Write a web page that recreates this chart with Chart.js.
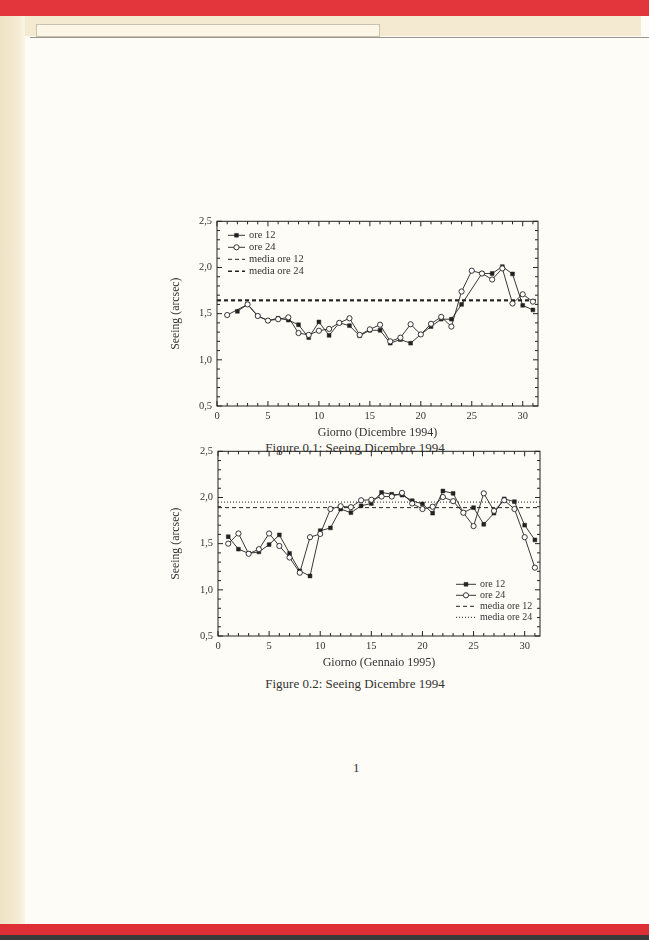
<!DOCTYPE html>
<html lang="it">
<head>
  <meta charset="UTF-8">
  <title>Seeing Dicembre 1994 / Gennaio 1995</title>
  <script src="https://cdn.jsdelivr.net/npm/chart.js"></script>
  <style>
    body { margin: 0; width: 649px; height: 940px; position: relative; overflow: hidden;
           background: #fefcf6; font-family: "Liberation Serif", serif; color: #333; }
    .abs { position: absolute; }
    .caption { font-size: 13px; text-align: center; width: 300px; left: 205px; }
  </style>
</head>
<body>
  <!-- bordi della scansione -->
  <div class="abs" style="left:0;top:0;width:649px;height:16px;background:#e2353c"></div>
  <div class="abs" style="left:8px;top:16px;width:633px;height:20px;background:#f4ead2"></div>
  <div class="abs" style="left:36px;top:24px;width:342px;height:11px;background:#fbf6e6;border:1px solid #c9c2b0"></div>
  <div class="abs" style="left:30px;top:37px;width:619px;height:1px;background:#9a968c"></div>
  <div class="abs" style="left:0;top:16px;width:25px;height:910px;background:linear-gradient(90deg,#efe2c6,#f5ead2 70%,#fbf5e6)"></div>
  <div class="abs" style="left:0;top:924px;width:649px;height:11px;background:#df2f36"></div>
  <div class="abs" style="left:0;top:935px;width:649px;height:5px;background:#3a3a3a"></div>

  <div class="abs caption" style="top:440px">Figure 0.1: Seeing Dicembre 1994</div>
  <div class="abs caption" style="top:676px">Figure 0.2: Seeing Dicembre 1994</div>
  <div class="abs" style="left:353px;top:760px;font-size:13px">1</div>

  <div class="abs" style="left:160px;top:210px;width:390px;height:240px"><canvas id="dec"></canvas></div>
  <div class="abs" style="left:160px;top:440px;width:390px;height:240px"><canvas id="jan"></canvas></div>

  <script>
    // giorni del mese
    const days = [1,2,3,4,5,6,7,8,9,10,11,12,13,14,15,16,17,18,19,20,21,22,23,24,25,26,27,28,29,30,31];

    // Dicembre 1994
    const dec12 = [null,1.525,1.60,1.475,1.425,1.45,1.43,1.38,1.24,1.41,1.265,1.40,1.37,1.26,1.32,1.32,
                   1.18,1.22,1.18,1.275,1.36,1.44,1.44,1.60,null,1.935,1.935,2.01,1.93,1.59,1.54];
    const dec24 = [1.485,null,1.60,1.475,1.425,1.44,1.46,1.29,1.27,1.315,1.335,1.40,1.45,1.27,1.33,1.38,
                   1.20,1.24,1.385,1.275,1.39,1.465,1.36,1.74,1.965,1.935,1.87,1.99,1.61,1.71,1.63];
    const decMean12 = 1.64;
    const decMean24 = 1.645;

    // Gennaio 1995
    const jan12 = [1.575,1.44,1.395,1.41,1.49,1.595,1.395,1.205,1.15,1.64,1.67,1.875,1.835,1.91,1.935,2.055,
                   2.035,2.025,1.965,1.93,1.83,2.07,2.045,1.835,1.89,1.71,1.83,1.985,1.955,1.70,1.54];
    const jan24 = [1.50,1.61,1.39,1.44,1.61,1.475,1.35,1.185,1.57,1.605,1.875,1.905,1.895,1.97,1.975,2.01,
                   2.01,2.05,1.935,1.875,1.90,2.005,1.96,1.835,1.69,2.045,1.855,1.97,1.875,1.57,1.24];
    const janMean12 = 1.89;
    const janMean24 = 1.95;

    const xTicks = [0, 5, 10, 15, 20, 25, 30];
    const yTicks = [0.5, 1.0, 1.5, 2.0, 2.5];
    const xMin = 0, xMax = 31.5;

    Chart.defaults.font.family = '"Liberation Serif", serif';
    Chart.defaults.color = '#333';

    const INK = '#222';

    // cornice con tacche verso l'interno su tutti i lati
    const frame = {
      id: 'frame',
      beforeDatasetsDraw(chart) {
        const { ctx, chartArea: a, scales: { x, y } } = chart;
        ctx.save();
        ctx.strokeStyle = INK;
        ctx.lineWidth = 1;
        ctx.strokeRect(a.left, a.top, a.right - a.left, a.bottom - a.top);
        ctx.beginPath();
        for (let v = 0; v <= 31; v++) {
          const px = x.getPixelForValue(v);
          const len = v % 5 === 0 ? 5 : 3;
          ctx.moveTo(px, a.bottom); ctx.lineTo(px, a.bottom - len);
          ctx.moveTo(px, a.top); ctx.lineTo(px, a.top + len);
        }
        for (let k = 5; k <= 25; k++) {
          const py = y.getPixelForValue(k / 10);
          const len = k % 5 === 0 ? 5 : 3;
          ctx.moveTo(a.left, py); ctx.lineTo(a.left + len, py);
          ctx.moveTo(a.right, py); ctx.lineTo(a.right - len, py);
        }
        ctx.stroke();
        ctx.restore();
      }
    };

    // legenda disegnata dentro l'area del grafico
    const innerLegend = {
      id: 'innerLegend',
      afterDraw(chart, args, opts) {
        const { ctx, chartArea: a } = chart;
        ctx.save();
        ctx.font = opts.size + 'px "Liberation Serif", serif';
        ctx.textBaseline = 'middle';
        chart.data.datasets.forEach((ds, i) => {
          const y0 = a.top + opts.y + i * opts.row;
          const x0 = a.left + opts.x;
          ctx.strokeStyle = ds.borderColor;
          ctx.lineWidth = ds.legendWidth || ds.borderWidth;
          ctx.setLineDash(ds.borderDash || []);
          ctx.beginPath();
          ctx.moveTo(x0, y0); ctx.lineTo(x0 + opts.len, y0);
          ctx.stroke();
          ctx.setLineDash([]);
          if (ds.pointRadius > 0) {
            ctx.fillStyle = ds.pointBackgroundColor;
            ctx.strokeStyle = ds.pointBorderColor;
            ctx.lineWidth = ds.pointBorderWidth;
            Chart.helpers.drawPoint(ctx, { pointStyle: ds.pointStyle, radius: ds.pointRadius, rotation: 0, borderWidth: ds.pointBorderWidth },
              x0 + opts.len / 2, y0);
          }
          ctx.fillStyle = '#333';
          ctx.fillText(ds.label, x0 + opts.len + 4, y0);
        });
        ctx.restore();
      }
    };

    function pts(values) {
      return values.map((v, i) => ({ x: days[i], y: v }));
    }
    function flat(v) {
      return [{ x: xMin, y: v }, { x: xMax, y: v }];
    }
    const fmt = v => v.toFixed(1).replace('.', ',');

    function makeChart(id, s12, s24, m12, m24, style24, xTitle, legendPos, padRight, yWidth) {
      new Chart(document.getElementById(id), {
        type: 'line',
        data: {
          datasets: [
            { label: 'ore 12', data: pts(s12), borderColor: INK, borderWidth: 0.9, spanGaps: true,
              pointStyle: 'rect', pointRadius: 2.7, pointBackgroundColor: INK, pointBorderColor: INK,
              pointBorderWidth: 0.5, order: 2 },
            { label: 'ore 24', data: pts(s24), borderColor: INK, borderWidth: 0.9, spanGaps: true,
              pointStyle: 'circle', pointRadius: 2.6, pointBackgroundColor: '#fff', pointBorderColor: INK,
              pointBorderWidth: 0.9, order: 1 },
            { label: 'media ore 12', data: flat(m12), borderColor: INK, borderWidth: 1,
              borderDash: [4, 3], pointRadius: 0, order: 3 },
            Object.assign({ label: 'media ore 24', data: flat(m24), borderColor: INK, pointRadius: 0, order: 4 }, style24)
          ]
        },
        options: {
          animation: false,
          responsive: true,
          maintainAspectRatio: false,
          layout: { padding: { top: 11, right: padRight, left: 0, bottom: 0 } },
          plugins: {
            legend: { display: false },
            tooltip: { enabled: false },
            innerLegend: legendPos
          },
          scales: {
            x: {
              type: 'linear', min: xMin, max: xMax,
              grid: { display: false, drawTicks: false },
              border: { display: false },
              afterBuildTicks: s => { s.ticks = xTicks.map(v => ({ value: v })); },
              afterFit: s => { s.height = 44; },
              ticks: { padding: 4, font: { size: 10.5 }, maxRotation: 0 },
              title: { display: true, text: xTitle, font: { size: 12 }, padding: { top: 0, bottom: 10 } }
            },
            y: {
              min: 0.5, max: 2.5,
              grid: { display: false, drawTicks: false },
              border: { display: false },
              afterBuildTicks: s => { s.ticks = yTicks.map(v => ({ value: v })); },
              afterFit: s => { s.width = yWidth; },
              ticks: { padding: 5, font: { size: 10.5 }, callback: v => fmt(v) },
              title: { display: true, text: 'Seeing (arcsec)', font: { size: 11.8 }, padding: { top: 9, bottom: 0 } }
            }
          }
        },
        plugins: [frame, innerLegend]
      });
    }

    makeChart('dec', dec12, dec24, decMean12, decMean24,
      { borderWidth: 2, borderDash: [4, 3], legendWidth: 1.6 },
      'Giorno (Dicembre 1994)', { x: 11, y: 14, row: 12, len: 17, size: 10.5 }, 12, 57);

    makeChart('jan', jan12, jan24, janMean12, janMean24,
      { borderWidth: 1, borderDash: [1, 2] },
      'Giorno (Gennaio 1995)', { x: 238, y: 133, row: 11, len: 20, size: 10 }, 10, 58);
  </script>
</body>
</html>
